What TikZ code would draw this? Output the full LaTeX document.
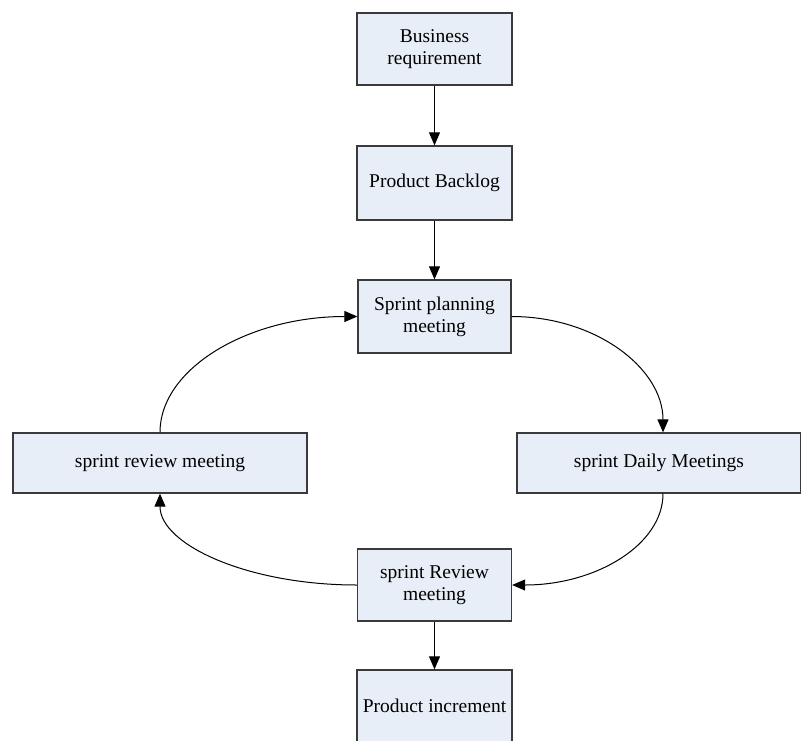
\documentclass[tikz,border=0pt]{standalone}
\usepackage{fontspec}
\setmainfont{Liberation Serif}
\usetikzlibrary{arrows.meta}
\definecolor{boxfill}{HTML}{E8EEF7}
\definecolor{boxline}{HTML}{3A3A3A}
\tikzset{
  procbox/.style={draw=boxline, fill=boxfill, line width=1.3pt, align=center,
    inner sep=0pt, font=\fontsize{19.5}{22}\selectfont},
  flow/.style={line width=1pt, -{Triangle[length=13pt,width=11pt]}}
}
\begin{document}
\begin{tikzpicture}[x=1pt,y=-1pt]
\useasboundingbox (0,0) rectangle (801,740);
\node[procbox, minimum width=155, minimum height=72] (biz) at (434.5,49) {Business\\requirement};
\node[procbox, minimum width=155, minimum height=74] (backlog) at (434.5,183) {Product Backlog};
\node[procbox, minimum width=153, minimum height=73] (plan) at (434.5,316.5) {Sprint planning\\meeting};
\node[procbox, minimum width=294, minimum height=60] (rev) at (160,463) {sprint review meeting};
\node[procbox, minimum width=284, minimum height=60] (daily) at (659,463) {sprint Daily Meetings};
\node[procbox, minimum width=154, minimum height=72] (review) at (434.5,585) {sprint Review\\meeting};
\node[procbox, minimum width=155, minimum height=72] (incr) at (434.5,706) {Product increment};

\draw[flow] (biz.south) -- (backlog.north);
\draw[flow] (backlog.south) -- (plan.north);
\draw[flow] (review.south) -- (incr.north);

\draw[flow] (rev.north) .. controls +(0,-64) and +(-109,0) .. (plan.west);
\draw[flow] (plan.east) .. controls +(84,0) and +(0,-64) .. ([xshift=4]daily.north);
\draw[flow] ([xshift=4]daily.south) .. controls +(0,51) and +(84,0) .. (review.east);
\draw[flow] (review.west) .. controls +(-109,0) and +(0,51) .. (rev.south);
\end{tikzpicture}
\end{document}
